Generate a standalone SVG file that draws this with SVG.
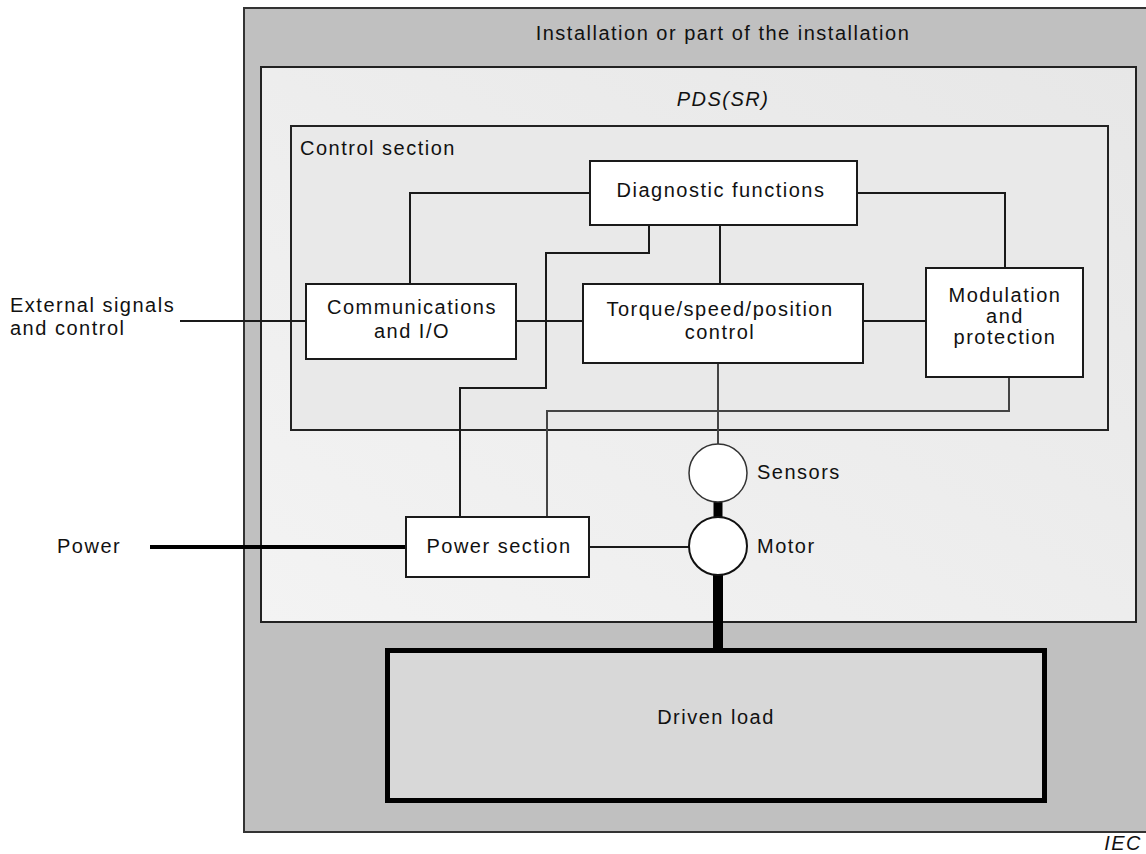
<svg xmlns="http://www.w3.org/2000/svg" width="1146" height="854" viewBox="0 0 1146 854">
<style>
text{font-family:"Liberation Sans",Arial,sans-serif;font-size:20px;letter-spacing:1.5px;fill:#111}
.mid{text-anchor:middle}
.box{fill:#fff;stroke:#1a1a1a;stroke-width:2}
.ln{fill:none;stroke:#1a1a1a;stroke-width:2}
.lg{fill:none;stroke:#444;stroke-width:2}
.sh{fill:none;stroke:#000}
</style>
<defs>
<linearGradient id="pds" x1="1" y1="0" x2="0" y2="1">
<stop offset="0" stop-color="#e7e7e7"/>
<stop offset="1" stop-color="#f3f3f3"/>
</linearGradient>
</defs>
<rect width="1146" height="854" fill="#fff"/>
<g id="installation">
<rect x="244" y="8" width="910" height="824" fill="#c0c0c0" stroke="#333" stroke-width="2"/>
<text class="mid" x="723" y="40">Installation or part of the installation</text>
</g>
<g id="pds">
<rect x="261" y="67" width="875" height="555" fill="url(#pds)" stroke="#222" stroke-width="2"/>
<text class="mid" x="723" y="106" font-style="italic">PDS(SR)</text>
</g>
<g id="control-section">
<rect x="291" y="126" width="817" height="304" fill="#e9e9e9" stroke="#222" stroke-width="2"/>
<text x="300" y="155">Control section</text>
</g>
<g id="connectors">
<polyline class="ln" points="590,193 410,193 410,284"/>
<polyline class="ln" points="857,193 1005,193 1005,268"/>
<line class="ln" x1="720" y1="225" x2="720" y2="284"/>
<polyline class="ln" points="649,225 649,253 546,253 546,388 460,388 460,517"/>
<line class="ln" x1="516" y1="321" x2="583" y2="321"/>
<line class="ln" x1="863" y1="321" x2="926" y2="321"/>
<line class="ln" x1="180" y1="321" x2="306" y2="321"/>
<line class="lg" x1="718" y1="363" x2="718" y2="444"/>
<polyline class="lg" points="1009,377 1009,411 547,411 547,517"/>
<line class="sh" x1="718" y1="500" x2="718" y2="520" stroke-width="9"/>
<line class="sh" x1="718" y1="572" x2="718" y2="650" stroke-width="10"/>
<line class="sh" x1="150" y1="547" x2="406" y2="547" stroke-width="4"/>
<line class="ln" x1="589" y1="547" x2="690" y2="547"/>
</g>
<g id="diagnostic">
<rect class="box" x="590" y="161" width="267" height="64"/>
<text class="mid" x="721" y="197">Diagnostic functions</text>
</g>
<g id="communications">
<rect class="box" x="306" y="284" width="210" height="75"/>
<text class="mid" x="412" y="314">Communications</text>
<text class="mid" x="412" y="338">and I/O</text>
</g>
<g id="torque">
<rect class="box" x="583" y="284" width="280" height="79"/>
<text class="mid" x="720" y="316">Torque/speed/position</text>
<text class="mid" x="720" y="339">control</text>
</g>
<g id="modulation">
<rect class="box" x="926" y="268" width="157" height="109"/>
<text class="mid" x="1005" y="302" font-size="17">Modulation</text>
<text class="mid" x="1005" y="323" font-size="17">and</text>
<text class="mid" x="1005" y="344" font-size="17">protection</text>
</g>
<g id="power-section">
<rect class="box" x="406" y="517" width="183" height="60"/>
<text class="mid" x="499" y="553">Power section</text>
</g>
<g id="sensors">
<circle cx="718" cy="473" r="29" fill="#fff" stroke="#333" stroke-width="1.5"/>
<text x="757" y="479">Sensors</text>
</g>
<g id="motor">
<circle cx="718" cy="546" r="29" fill="#fff" stroke="#111" stroke-width="2"/>
<text x="757" y="553">Motor</text>
</g>
<g id="driven-load">
<rect x="387.5" y="650.5" width="657" height="150" fill="#d8d8d8" stroke="#000" stroke-width="5"/>
<text class="mid" x="716" y="724">Driven load</text>
</g>
<g id="external">
<text x="10" y="312">External signals</text>
<text x="10" y="335">and control</text>
</g>
<g id="power">
<text x="57" y="553">Power</text>
</g>
<text x="1142" y="850" font-size="13" font-style="italic" letter-spacing="0" text-anchor="end">IEC</text>
</svg>
